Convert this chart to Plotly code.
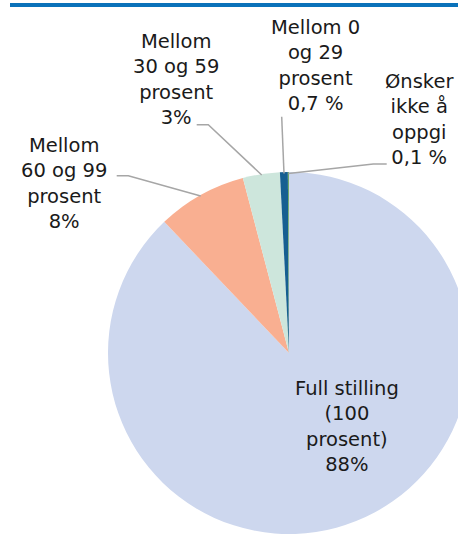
import plotly.graph_objects as go

# ---- data ----
categories = [
    "Full stilling (100 prosent)",
    "Mellom 60 og 99 prosent",
    "Mellom 30 og 59 prosent",
    "Mellom 0 og 29 prosent",
    "Ønsker ikke å oppgi",
]
values = [87.9, 8.0, 3.3, 0.7, 0.1]
label_texts = [
    "Full stilling<br>(100<br>prosent)<br>88%",
    "Mellom<br>60 og 99<br>prosent<br>8%",
    "Mellom<br>30 og 59<br>prosent<br>3%",
    "Mellom 0<br>og 29<br>prosent<br>0,7 %",
    "Ønsker<br>ikke å<br>oppgi<br>0,1 %",
]

# ---- style / layout ----
colors = ["#cdd7ee", "#f9af91", "#cde6dc", "#165f91", "#6fa86a"]
W, H = 480, 535
FONT = "DejaVu Sans"
cx, cy, r = 289, 353, 181


def px(x):
    return x / W


def py(y):
    return 1 - y / H


fig = go.Figure()
fig.add_trace(go.Pie(
    labels=categories,
    values=values,
    sort=False,
    direction="clockwise",
    rotation=0,
    marker=dict(colors=colors, line=dict(width=0)),
    textinfo="none",
    hoverinfo="skip",
    showlegend=False,
    domain=dict(x=[px(cx - r), px(cx + r)], y=[py(cy + r), py(cy - r)]),
))

# label positions (pixel centres)
label_pos = [(347, 426), (64, 183), (176, 79), (315, 65), (419, 119)]
annotations = []
for txt, (x, y) in zip(label_texts, label_pos):
    annotations.append(dict(
        text=txt, x=px(x), y=py(y), xref="paper", yref="paper",
        xanchor="center", yanchor="middle", showarrow=False, align="center",
        font=dict(family=FONT, size=19.5, color="#1a1a1a"),
    ))

leaders = [
    [(116.7, 175.7), (128.3, 175.7), (200.7, 196)],
    [(196.7, 124.7), (208.3, 124.7), (261.7, 175)],
    [(281.7, 116.7), (284, 173.5)],
    [(386.7, 164), (373.3, 164), (288.5, 173.5)],
]
shapes = []
for pts in leaders:
    path = "M " + " L ".join(f"{px(x):.5f},{py(y):.5f}" for x, y in pts)
    shapes.append(dict(type="path", path=path, xref="paper", yref="paper",
                       line=dict(color="#a6a6a6", width=1.5)))

# top blue rule
shapes.append(dict(type="rect", xref="paper", yref="paper",
                   x0=px(10), x1=1, y0=py(7), y1=py(3),
                   fillcolor="#0a72ba", line=dict(width=0), layer="above"))

fig.update_layout(
    width=W, height=H, autosize=False,
    margin=dict(l=0, r=0, t=0, b=0),
    paper_bgcolor="white", plot_bgcolor="white",
    annotations=annotations, shapes=shapes,
)

fig.write_html(
    "out.html",
    config={"displayModeBar": False},
    post_script="document.body.style.margin='0';document.body.style.overflow='hidden';",
)
